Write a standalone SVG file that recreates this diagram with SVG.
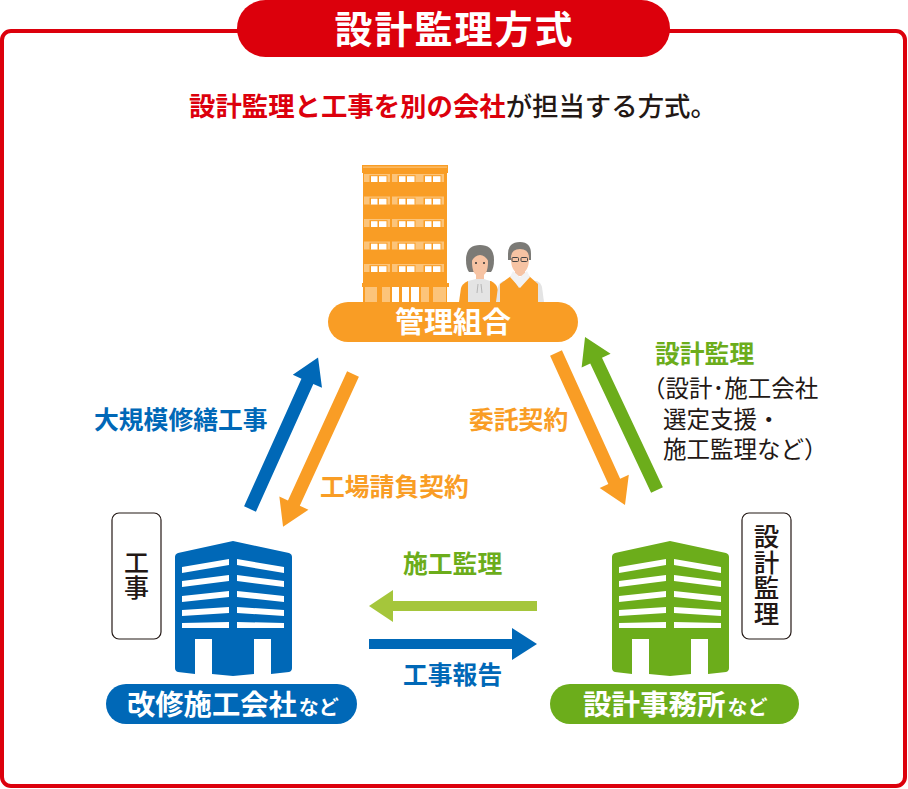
<svg xmlns="http://www.w3.org/2000/svg" width="908" height="789" viewBox="0 0 908 789">
<style>
text{font-family:"Noto Sans CJK JP","Noto Sans",sans-serif;font-weight:700}
.l{font-size:24.8px}
.p{font-size:29px;fill:#fff;text-anchor:middle}
.s{font-size:23.5px;font-weight:400}
.b{fill:#0068b7}.o{fill:#f99d25}.g{fill:#6cad1b}.lg{fill:#a5c63b}.k{fill:#231815}
.n{font-weight:500}
.box{fill:#fff;stroke:#231815;stroke-width:1.2}
.w{fill:#fff}.pale{fill:#fcc47a}.skin{fill:#f6c3a3}.hair{fill:#7b7a76}.gr{fill:#e4e4e4}
.v{writing-mode:vertical-rl;font-weight:500;text-anchor:start}
</style>
<defs>
<g id="tower">
<path d="M58 0 L114 12 Q117 13 117 16 V127 Q117 130 114 131 L96 133 V98 H79 V133 L58 135 L37 133 V98 H20 V133 L3 131 Q0 130 0 127 V16 Q0 13 3 12 Z"/>
<g class="w">
<polygon points="7,26 54,18 54,24 7,32"/><polygon points="62,18 109,26 109,32 62,24"/>
<polygon points="7,40 54,34 54,40 7,46"/><polygon points="62,34 109,40 109,46 62,40"/>
<polygon points="7,55 54,50 54,56 7,61"/><polygon points="62,50 109,55 109,61 62,56"/>
<polygon points="7,69 54,66 54,72 7,75"/><polygon points="62,66 109,69 109,75 62,72"/>
<polygon points="7,82 54,81 54,87 7,87"/><polygon points="62,81 109,82 109,87 62,87"/>
</g>
</g>
<g id="unit">
<rect x="0" y="0" width="26" height="8" class="pale"/>
<rect x="5.5" y="1.2" width="18" height="6.8" class="o"/>
<rect x="7" y="2.2" width="6.5" height="5.8" class="w"/><rect x="15" y="2.2" width="7.5" height="5.8" class="w"/>
</g>
<g id="floor">
<use href="#unit" x="0"/><use href="#unit" x="28"/><use href="#unit" x="54"/>
</g>
</defs>

<g id="frame">
<rect x="2" y="31" width="903" height="755" rx="9" fill="#fff" stroke="#dc000c" stroke-width="4"/>
<rect x="237" y="0" width="433" height="57" rx="28.5" fill="#dc000c"/>
<text x="454.5" y="43" font-size="38" letter-spacing="2" text-anchor="middle" fill="#fff">設計監理方式</text>
<text x="189" y="116" font-size="26.4"><tspan fill="#dc000c">設計監理と工事を別の会社</tspan><tspan class="k" font-weight="500">が担当する方式。</tspan></text>
</g>

<g id="connectors">
<polygon class="b" transform="translate(250,509) rotate(-65.8)" points="0,-6.5 140,-6.5 140,-16 166,0 140,16 140,6.5 0,6.5"/>
<polygon class="o" transform="translate(353,374) rotate(114.6)" points="0,-6.5 142,-6.5 142,-16 168,0 142,16 142,6.5 0,6.5"/>
<polygon class="o" transform="translate(556,353) rotate(65.6)" points="0,-6.5 141,-6.5 141,-16 167,0 141,16 141,6.5 0,6.5"/>
<polygon class="g" transform="translate(657,490) rotate(-115.2)" points="0,-6.5 143,-6.5 143,-16 169,0 143,16 143,6.5 0,6.5"/>
<polygon class="lg" points="537,601 393,601 393,590 369,606 393,622 393,611 537,611"/>
<polygon class="b" points="369,639 512,639 512,628 537,644 512,660 512,649 369,649"/>
<text class="l b" x="94" y="429">大規模修繕工事</text>
<text class="l o" x="320" y="496">工場請負契約</text>
<text class="l o" x="469" y="429">委託契約</text>
<text class="l g" x="655" y="363">設計監理</text>
<text class="s k"><tspan x="642" y="397">（設計･施工会社</tspan><tspan x="663" y="428">選定支援・</tspan><tspan x="663" y="458">施工監理など）</tspan></text>
<text class="l g" x="403" y="573">施工監理</text>
<text class="l b" x="403" y="684">工事報告</text>
</g>

<g id="node-kanri">
<g id="apartment">
<rect x="363" y="172" width="84" height="130" class="o"/>
<rect x="362" y="165" width="86" height="8" class="o"/>
<rect x="363" y="166.5" width="84" height="1.2" class="pale"/>
<use href="#floor" x="364" y="174"/>
<use href="#floor" x="364" y="196.5"/>
<use href="#floor" x="364" y="219"/>
<use href="#floor" x="364" y="241.5"/>
<use href="#floor" x="364" y="264"/>
<rect x="362" y="283" width="87" height="4" class="o"/>
<rect x="365" y="287" width="12" height="15" class="pale"/>
<rect x="382" y="287" width="8" height="15" class="pale"/>
<rect x="392" y="287" width="7" height="15" class="w"/>
<rect x="402" y="287" width="7" height="15" class="w"/>
<rect x="411" y="287" width="8" height="15" class="w"/>
<rect x="421" y="287" width="8" height="15" class="pale"/>
<rect x="433" y="287" width="13" height="15" class="pale"/>
</g>
<g id="people">
<path d="M466 260 Q466 245 480 245 Q494 245 494 260 Q494 268 491 272 H469 Q466 268 466 260Z" class="hair"/>
<rect x="476" y="272" width="8" height="9" class="skin"/>
<path d="M472 262 Q472 254 480 254 Q488 254 488 262 Q488 276 480 276 Q472 276 472 262Z" class="skin"/>
<path d="M471 262 Q473 251 480 251 Q487 251 489 262 Q485 255 480 255 Q475 255 471 262Z" class="hair"/>
<circle cx="476" cy="263" r="1" fill="#333"/><circle cx="484" cy="263" r="1" fill="#333"/>
<path d="M459 302 L461 288 Q462 284 468 281 H491 Q497 284 498 290 V302Z" class="o"/>
<path d="M468 302 V281 L476 279 H484 L490 281 V302Z" class="gr"/>
<path d="M478 284 L477 293 M481 284 L482 293" stroke="#aaa" stroke-width="0.8" fill="none"/>
<path d="M496 302 L498 287 Q499 283 503 281 H537 Q541 283 542 287 L544 302Z" class="gr"/>
<path d="M508 254 Q508 242 520 242 Q531 242 531 254 V260 H508Z" class="hair"/>
<rect x="515" y="268" width="10" height="8" class="skin"/>
<path d="M511 258 Q511 249 520 249 Q529 249 529 258 Q529 273 520 273 Q511 273 511 258Z" class="skin"/>
<path d="M500 302 V284 L511 276 L519 288 L529 276 L538 284 V302Z" class="o"/>
<path d="M510 277 L513 271 L520 277 L527 271 L530 277 L520 288Z" fill="#f2f2f2"/>
<rect x="512" y="257.5" width="6.5" height="4" rx="1" fill="none" stroke="#444" stroke-width="1"/>
<rect x="521" y="257.5" width="6.5" height="4" rx="1" fill="none" stroke="#444" stroke-width="1"/>
</g>
<rect x="328" y="302" width="250" height="40" rx="20" class="o"/>
<text class="p" x="453" y="333">管理組合</text>
</g>

<g id="node-koji">
<use href="#tower" class="b" x="175" y="541"/>
<rect class="box" x="112" y="513" width="49" height="126" rx="7"/>
<text x="136.5" y="550" font-size="25" class="k v" letter-spacing="-0.5">工事</text>
<rect x="106" y="684" width="251" height="40" rx="20" class="b"/>
<text x="127" y="715" font-size="28.3" fill="#fff">改修施工会社<tspan font-size="20" dx="2">など</tspan></text>
</g>

<g id="node-sekkei">
<use href="#tower" class="g" x="612" y="541"/>
<rect class="box" x="742" y="513" width="49" height="126" rx="7"/>
<text x="766.5" y="524" font-size="25.5" class="k v">設計監理</text>
<rect x="550" y="684" width="249" height="40" rx="20" class="g"/>
<text x="583" y="715" font-size="28.5" fill="#fff">設計事務所<tspan font-size="20" dx="2">など</tspan></text>
</g>
</svg>
